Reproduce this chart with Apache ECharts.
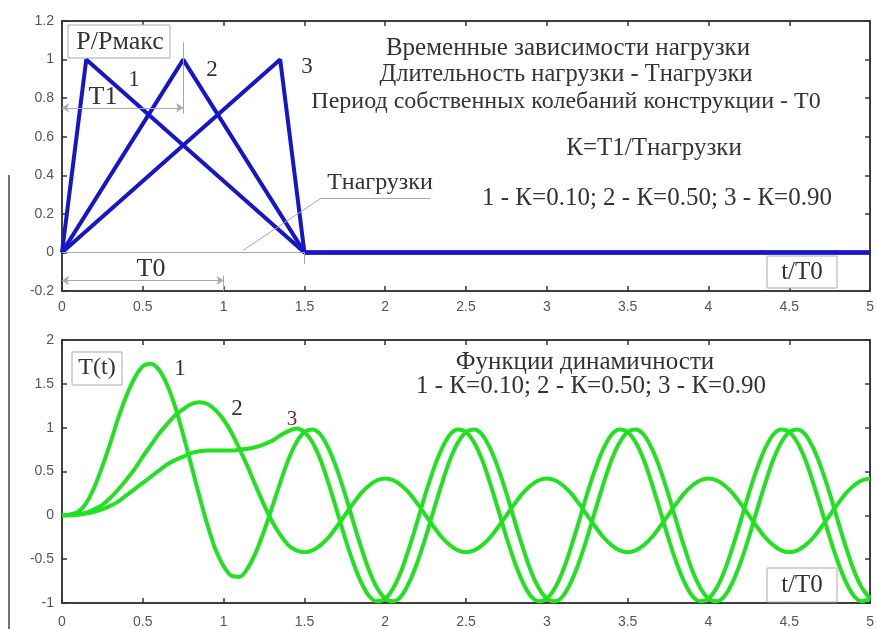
<!DOCTYPE html>
<html>
<head>
<meta charset="utf-8">
<script src="https://cdn.jsdelivr.net/npm/echarts@6/dist/echarts.min.js"></script>
<style>
  html, body { margin: 0; padding: 0; background: #fff; }
  #main { width: 877px; height: 629px; }
</style>
</head>
<body>
<div id="main"></div>
<script>
// load shapes (t/T0, P/Pmax)
var load1T = [0, 0.15, 1.5, 5];
var load1P = [0, 1, 0, 0];
var load2T = [0, 0.75, 1.5, 5];
var load2P = [0, 1, 0, 0];
var load3T = [0, 1.35, 1.5, 5];
var load3P = [0, 1, 0, 0];

// time grid for the dynamic factor curves
var tGrid = [0, 0.05, 0.1, 0.15, 0.2, 0.25, 0.3, 0.35, 0.4, 0.45, 0.5, 0.55, 0.6, 0.65, 0.7, 0.75, 0.8, 0.85, 0.9, 0.95,
  1, 1.05, 1.1, 1.15, 1.2, 1.25, 1.3, 1.35, 1.4, 1.45, 1.5, 1.55, 1.6, 1.65, 1.7, 1.75, 1.8, 1.85, 1.9, 1.95,
  2, 2.05, 2.1, 2.15, 2.2, 2.25, 2.3, 2.35, 2.4, 2.45, 2.5, 2.55, 2.6, 2.65, 2.7, 2.75, 2.8, 2.85, 2.9, 2.95,
  3, 3.05, 3.1, 3.15, 3.2, 3.25, 3.3, 3.35, 3.4, 3.45, 3.5, 3.55, 3.6, 3.65, 3.7, 3.75, 3.8, 3.85, 3.9, 3.95,
  4, 4.05, 4.1, 4.15, 4.2, 4.25, 4.3, 4.35, 4.4, 4.45, 4.5, 4.55, 4.6, 4.65, 4.7, 4.75, 4.8, 4.85, 4.9, 4.95, 5];

var dyn1 = [0, 0.01, 0.04, 0.14, 0.32, 0.56, 0.83, 1.12, 1.37, 1.57, 1.70, 1.73, 1.66, 1.49, 1.24, 0.92, 0.57, 0.22, -0.11, -0.39,
  -0.58, -0.69, -0.70, -0.60, -0.42, -0.18, 0.09, 0.37, 0.63, 0.83, 0.95,
  0.98, 0.92, 0.76, 0.53, 0.25, -0.06, -0.36, -0.63, -0.83, -0.95, -0.98, -0.92, -0.76, -0.53, -0.25, 0.06, 0.36, 0.63, 0.83, 0.95,
  0.98, 0.92, 0.76, 0.53, 0.25, -0.06, -0.36, -0.63, -0.83, -0.95, -0.98, -0.92, -0.76, -0.53, -0.25, 0.06, 0.36, 0.63, 0.83, 0.95,
  0.98, 0.92, 0.76, 0.53, 0.25, -0.06, -0.36, -0.63, -0.83, -0.95, -0.98, -0.92, -0.76, -0.53, -0.25, 0.06, 0.36, 0.63, 0.83, 0.95,
  0.98, 0.92, 0.76, 0.53, 0.25, -0.06, -0.36, -0.63, -0.83, -0.95];

var dyn2 = [0, 0.00, 0.01, 0.03, 0.07, 0.12, 0.20, 0.30, 0.41, 0.53, 0.67, 0.80, 0.93, 1.04, 1.14, 1.21, 1.27, 1.29, 1.27, 1.20,
  1.09, 0.94, 0.75, 0.55, 0.33, 0.12, -0.07, -0.22, -0.34, -0.40, -0.42,
  -0.40, -0.34, -0.25, -0.13, 0, 0.13, 0.25, 0.34, 0.40, 0.42, 0.40, 0.34, 0.25, 0.13, 0, -0.13, -0.25, -0.34, -0.40, -0.42,
  -0.40, -0.34, -0.25, -0.13, 0, 0.13, 0.25, 0.34, 0.40, 0.42, 0.40, 0.34, 0.25, 0.13, 0, -0.13, -0.25, -0.34, -0.40, -0.42,
  -0.40, -0.34, -0.25, -0.13, 0, 0.13, 0.25, 0.34, 0.40, 0.42, 0.40, 0.34, 0.25, 0.13, 0, -0.13, -0.25, -0.34, -0.40, -0.42,
  -0.40, -0.34, -0.25, -0.13, 0, 0.13, 0.25, 0.34, 0.40, 0.42];

var dyn3 = [0, 0.00, 0.01, 0.02, 0.04, 0.07, 0.11, 0.16, 0.23, 0.30, 0.37, 0.44, 0.51, 0.58, 0.63, 0.67, 0.71, 0.73, 0.74, 0.74,
  0.74, 0.74, 0.75, 0.76, 0.78, 0.81, 0.85, 0.91, 0.96, 0.99, 0.95,
  0.83, 0.63, 0.36, 0.06, -0.25, -0.53, -0.76, -0.92, -0.98, -0.95, -0.83, -0.63, -0.36, -0.06, 0.25, 0.53, 0.76, 0.92, 0.98, 0.95,
  0.83, 0.63, 0.36, 0.06, -0.25, -0.53, -0.76, -0.92, -0.98, -0.95, -0.83, -0.63, -0.36, -0.06, 0.25, 0.53, 0.76, 0.92, 0.98, 0.95,
  0.83, 0.63, 0.36, 0.06, -0.25, -0.53, -0.76, -0.92, -0.98, -0.95, -0.83, -0.63, -0.36, -0.06, 0.25, 0.53, 0.76, 0.92, 0.98, 0.95,
  0.83, 0.63, 0.36, 0.06, -0.25, -0.53, -0.76, -0.92, -0.98, -0.95];

var xTicks = { min: 0, max: 5, interval: 0.5 };
var yTopTicks = { min: -0.2, max: 1.2, interval: 0.2 };
var yBotTicks = { min: -1, max: 2, interval: 0.5 };

var chart = echarts.init(document.getElementById('main'));

var BLUE = '#1616c8', GREEN = '#22e022', TXT = '#333', DIM = '#a8a8a8';
var serif = '"Liberation Serif", "DejaVu Serif", serif';

function pairs(xs, ys) {
  return xs.map(function (x, i) { return [x, ys[i]]; });
}

function axisX(grid, pos, labels, margin) {
  return {
    type: 'value', gridIndex: grid, position: pos,
    min: xTicks.min, max: xTicks.max, interval: xTicks.interval,
    axisLine: { onZero: false, lineStyle: { color: '#333', width: 1.5 } },
    axisTick: { inside: true, length: 5, lineStyle: { color: '#333', width: 1.5 } },
    axisLabel: { show: labels, color: '#555', fontSize: 14, margin: margin || 9, fontFamily: '"Liberation Sans", Arial, sans-serif' },
    splitLine: { show: false }
  };
}
function axisY(grid, pos, labels, t) {
  return {
    type: 'value', gridIndex: grid, position: pos,
    min: t.min, max: t.max, interval: t.interval,
    axisLine: { onZero: false, lineStyle: { color: '#333', width: 1.5 } },
    axisTick: { inside: true, length: 5, lineStyle: { color: '#333', width: 1.5 } },
    axisLabel: { show: labels, color: '#555', fontSize: 14, margin: 8, fontFamily: '"Liberation Sans", Arial, sans-serif' },
    splitLine: { show: false }
  };
}

function loadSeries(xs, ys, extra) {
  var s = {
    type: 'line', xAxisIndex: 0, yAxisIndex: 0,
    data: pairs(xs, ys), showSymbol: false, symbol: 'none',
    lineStyle: { color: BLUE, width: 4 }, z: 3
  };
  if (extra) s.markLine = extra;
  return s;
}
function dynSeries(ys) {
  return {
    type: 'line', xAxisIndex: 2, yAxisIndex: 2,
    data: pairs(tGrid, ys), showSymbol: false, symbol: 'none', smooth: 0.3,
    lineStyle: { color: GREEN, width: 4, join: 'round' }
  };
}

// dimension lines of the load plot (data coordinates)
function seg(a, b, arrows) {
  return [
    { coord: a, symbol: arrows ? 'arrow' : 'none', symbolSize: 7 },
    { coord: b, symbol: arrows ? 'arrow' : 'none', symbolSize: 7 }
  ];
}
var dimLines = {
  silent: true, animation: false,
  label: { show: false },
  lineStyle: { type: 'solid', color: DIM, width: 1 },
  data: [
    seg([0, 0.75], [0.75, 0.75], true),
    seg([0.75, 0.72], [0.75, 1.09], false),
    seg([0, -0.145], [1, -0.145], true),
    seg([1, -0.12], [1, -0.2], false),
    seg([0, 0], [1.5, 0], false),
    seg([1.5, 0], [1.5, -0.06], false),
    seg([1.12, 0.01], [1.6, 0.28], false),
    seg([1.6, 0.28], [2.28, 0.28], false)
  ]
};

function txt(x, y, s, size, color, align) {
  return {
    type: 'text', z: 100,
    style: {
      x: x, y: y, text: s, fill: color || TXT,
      font: (size || 22) + 'px ' + serif,
      textAlign: align || 'center', align: align || 'center',
      textVerticalAlign: 'middle', verticalAlign: 'middle'
    }
  };
}
function box(x, y, w, h) {
  return {
    type: 'rect', z: 99,
    shape: { x: x, y: y, width: w, height: h },
    style: { fill: '#fff', stroke: '#aaa', lineWidth: 1 }
  };
}

chart.setOption({
  animation: false,
  backgroundColor: '#fff',
  grid: [
    { left: 62, top: 21, width: 813, height: 270, show: true, borderColor: '#333', borderWidth: 1.5, backgroundColor: '#fff' },
    { left: 62, top: 340, width: 813, height: 268, show: true, borderColor: '#333', borderWidth: 1.5, backgroundColor: '#fff' }
  ],
  xAxis: [axisX(0, 'bottom', true, 9), axisX(0, 'top', false), axisX(1, 'bottom', true, 12), axisX(1, 'top', false)],
  yAxis: [axisY(0, 'left', true, yTopTicks), axisY(0, 'right', false, yTopTicks),
          axisY(1, 'left', true, yBotTicks), axisY(1, 'right', false, yBotTicks)],
  series: [
    loadSeries(load1T, load1P, dimLines),
    loadSeries(load2T, load2P),
    loadSeries(load3T, load3P),
    dynSeries(dyn1),
    dynSeries(dyn2),
    dynSeries(dyn3)
  ],
  graphic: [
    // stray frame line at the left edge
    { type: 'line', z: 100, shape: { x1: 9, y1: 175, x2: 9, y2: 629 }, style: { stroke: '#444', lineWidth: 1.5 } },

    // top panel annotations
    box(68, 25, 102, 33),
    txt(120, 42, 'Р/Рмакс', 26),
    txt(134, 80, '1', 23),
    txt(212, 70, '2', 23),
    txt(307, 67, '3', 23),
    txt(103, 97, 'Т1', 26),
    txt(380, 183, 'Тнагрузки', 24),
    txt(151, 269, 'Т0', 26),
    txt(568, 48, 'Временные зависимости нагрузки', 25),
    txt(566, 75, 'Длительность нагрузки - Тнагрузки', 24.5),
    txt(566, 102, 'Период собственных колебаний конструкции - Т0', 24),
    txt(654, 148, 'К=Т1/Тнагрузки', 25),
    txt(657, 198, '1 - К=0.10; 2 - К=0.50; 3 - К=0.90', 25),
    box(767, 256, 70, 32),
    txt(802, 272, 't/T0', 25),

    // bottom panel annotations
    box(72, 352, 50, 33),
    txt(97, 368, 'T(t)', 24),
    txt(180, 369, '1', 23),
    txt(237, 409, '2', 23),
    txt(292, 419, '3', 21, '#6e2a2a'),
    txt(585, 362, 'Функции динамичности', 25),
    txt(591, 386, '1 - К=0.10; 2 - К=0.50; 3 - К=0.90', 25),
    box(767, 568, 70, 34),
    txt(802, 585, 't/T0', 25)
  ]
});
</script>
</body>
</html>
